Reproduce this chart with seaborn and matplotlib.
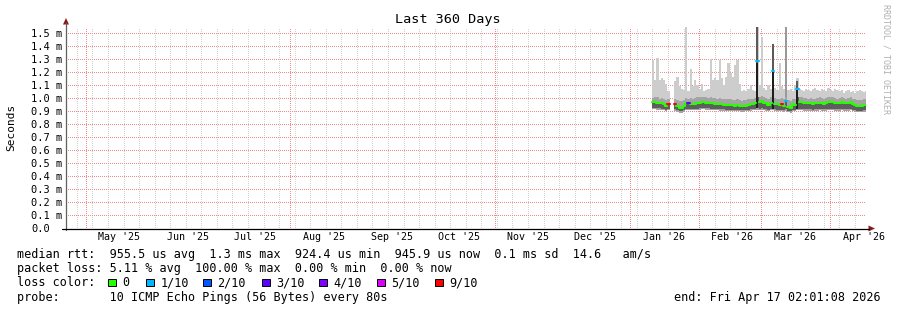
import numpy as np
import pandas as pd
import matplotlib
matplotlib.use("Agg")
import matplotlib.pyplot as plt
import seaborn as sns
from matplotlib.patches import Rectangle, Polygon
from matplotlib.lines import Line2D

W, H, DPI = 897, 310, 100

# ---------------- data ----------------
title = "Last 360 Days"
end_label = "end: Fri Apr 17 02:01:08 2026"
end_time = pd.Timestamp("2026-04-17 02:01:08")
span_days = 360
data_start = pd.Timestamp("2026-01-10 18:00")   # left edge of first daily step

month_labels = ["May '25", "Jun '25", "Jul '25", "Aug '25", "Sep '25", "Oct '25",
                "Nov '25", "Dec '25", "Jan '26", "Feb '26", "Mar '26", "Apr '26"]
month_label_dates = ["2025-05-16", "2025-06-16", "2025-07-16", "2025-08-16",
                     "2025-09-16", "2025-10-16", "2025-11-16", "2025-12-16",
                     "2026-01-16", "2026-02-16", "2026-03-16", "2026-04-16"]
major_grid_dates = ["2025-05-01", "2025-08-01", "2025-11-01", "2026-01-01",
                    "2026-02-01", "2026-03-01", "2026-04-01"]
week_grid_first = "2025-04-27"

ytick_values = [0.0, 0.1, 0.2, 0.3, 0.4, 0.5, 0.6, 0.7, 0.8, 0.9, 1.0, 1.1, 1.2, 1.3, 1.4, 1.5]
ytick_labels = ["0.0", "0.1 m", "0.2 m", "0.3 m", "0.4 m", "0.5 m", "0.6 m", "0.7 m",
                "0.8 m", "0.9 m", "1.0 m", "1.1 m", "1.2 m", "1.3 m", "1.4 m", "1.5 m"]
y_label = "Seconds"

nan = np.nan
# daily median rtt (ms)
median_ms = [0.970, 0.968, 0.962, 0.960, 0.958, 0.950, 0.940, 0.952, nan, nan,
             0.950, 0.935, 0.926, 0.922, 0.935, 0.958, 0.958, 0.955, 0.952, 0.954,
             0.958, 0.962, 0.966, 0.966, 0.964, 0.960, 0.958, 0.959, 0.956, 0.953,
             0.950, 0.951, 0.948, 0.946, 0.944, 0.946, 0.943, 0.942, 0.944, 0.940,
             0.937, 0.938, 0.942, 0.946, 0.950, 0.955, 0.958, 1.280, 0.968, 0.975,
             0.962, 0.958, 0.948, 0.965, 1.210, 0.955, 0.950, 0.948, 0.952, 0.940,
             0.975, 0.930, 0.922, 0.952, 0.948, 1.070, 0.966, 0.968, 0.962, 0.960,
             0.958, 0.962, 0.955, 0.958, 0.962, 0.965, 0.960, 0.956, 0.962, 0.968,
             0.972, 0.966, 0.962, 0.958, 0.962, 0.966, 0.962, 0.958, 0.962, 0.966,
             0.955, 0.945, 0.942, 0.940, 0.942, 0.944, 0.946]
# packet loss per day (out of 10 pings)
loss = [0, 0, 0, 0, 0, 0, 0, 9, 0, 0,
        9, 0, 0, 0, 0, 0, 3, 0, 0, 0,
        0, 0, 0, 0, 0, 0, 0, 0, 0, 0,
        0, 0, 0, 0, 0, 0, 0, 0, 0, 0,
        0, 0, 0, 0, 0, 0, 0, 1, 0, 0,
        0, 0, 0, 0, 1, 0, 0, 0, 9, 0,
        1, 0, 0, 0, 0, 1, 0, 0, 0, 0,
        0, 0, 0, 0, 0, 0, 0, 0, 0, 0,
        0, 0, 0, 0, 0, 0, 0, 0, 0, 0,
        0, 0, 0, 0, 0, 0, 0]
# smoke: lowest ping, lower edge of dark core, upper edge of mid band, highest ping (ms)
smoke_min = [0.915, 0.912, 0.910, 0.910, 0.908, 0.905, 0.900, 0.905, nan, nan,
             0.900, 0.890, 0.885, 0.885, 0.890, 0.905, 0.905, 0.905, 0.905, 0.905,
             0.908, 0.910, 0.912, 0.912, 0.910, 0.910, 0.908, 0.908, 0.905, 0.905,
             0.903, 0.903, 0.902, 0.900, 0.900, 0.900, 0.898, 0.898, 0.900, 0.897,
             0.895, 0.895, 0.897, 0.900, 0.902, 0.905, 0.905, 0.910, 0.905, 0.908,
             0.905, 0.903, 0.900, 0.905, 0.905, 0.903, 0.900, 0.900, 0.900, 0.895,
             0.900, 0.890, 0.885, 0.900, 0.900, 0.905, 0.905, 0.905, 0.903, 0.903,
             0.902, 0.903, 0.900, 0.902, 0.903, 0.905, 0.903, 0.902, 0.903, 0.905,
             0.906, 0.905, 0.903, 0.902, 0.903, 0.905, 0.903, 0.902, 0.903, 0.905,
             0.900, 0.895, 0.893, 0.892, 0.893, 0.894, 0.895]
core_lo = [0.925, 0.922, 0.920, 0.920, 0.918, 0.915, 0.910, 0.915, nan, nan,
           0.912, 0.905, 0.900, 0.898, 0.905, 0.915, 0.915, 0.915, 0.915, 0.915,
           0.918, 0.920, 0.922, 0.922, 0.920, 0.920, 0.918, 0.918, 0.915, 0.915,
           0.913, 0.913, 0.912, 0.910, 0.910, 0.910, 0.908, 0.908, 0.910, 0.907,
           0.905, 0.905, 0.907, 0.910, 0.912, 0.915, 0.915, 0.920, 0.918, 0.920,
           0.915, 0.913, 0.910, 0.915, 0.915, 0.913, 0.910, 0.910, 0.910, 0.905,
           0.912, 0.900, 0.898, 0.910, 0.910, 0.915, 0.915, 0.915, 0.913, 0.913,
           0.912, 0.913, 0.910, 0.912, 0.913, 0.915, 0.913, 0.912, 0.913, 0.915,
           0.916, 0.915, 0.913, 0.912, 0.913, 0.915, 0.913, 0.912, 0.913, 0.915,
           0.910, 0.905, 0.903, 0.902, 0.903, 0.904, 0.905]
band_hi = [1.000, 1.005, 1.010, 0.995, 1.000, 0.990, 0.985, 0.990, nan, nan,
           0.995, 0.985, 0.975, 0.975, 0.985, 1.000, 0.995, 1.000, 0.995, 1.000,
           1.005, 1.005, 1.010, 1.005, 1.005, 1.000, 1.005, 1.000, 1.000, 0.995,
           1.000, 0.995, 0.990, 0.995, 0.990, 0.990, 0.985, 0.985, 0.990, 0.985,
           0.980, 0.985, 0.985, 0.990, 0.995, 0.995, 1.000, 1.010, 1.010, 1.015,
           1.005, 1.000, 0.995, 1.005, 1.000, 1.000, 0.995, 0.995, 1.000, 0.990,
           1.005, 0.985, 0.980, 0.995, 0.995, 1.010, 1.005, 1.005, 1.000, 1.000,
           0.995, 1.000, 0.995, 0.995, 1.000, 1.005, 1.000, 0.995, 1.000, 1.005,
           1.010, 1.005, 1.000, 0.995, 1.000, 1.005, 1.000, 0.995, 1.000, 1.005,
           0.995, 0.990, 0.985, 0.985, 0.985, 0.990, 0.990]
smoke_max = [1.290, 1.140, 1.305, 1.140, 1.150, 1.140, 1.110, 1.050, nan, nan,
             1.130, 1.160, 1.090, 1.070, 1.060, 1.550, 1.050, 1.220, 1.090, 1.140,
             1.100, 1.070, 1.110, 1.050, 1.060, 1.070, 1.300, 1.140, 1.150, 1.140,
             1.290, 1.150, 1.100, 1.160, 1.270, 1.190, 1.160, 1.250, 1.290, 1.110,
             1.050, 1.060, 1.050, 1.070, 1.100, 1.060, 1.050, 1.550, 1.100, 1.470,
             1.080, 1.060, 1.100, 1.070, 1.415, 1.080, 1.060, 1.270, 1.090, 1.070,
             1.550, 1.060, 1.070, 1.050, 1.100, 1.150, 1.070, 1.060, 1.050, 1.070,
             1.060, 1.050, 1.070, 1.080, 1.060, 1.050, 1.070, 1.060, 1.050, 1.080,
             1.060, 1.050, 1.070, 1.060, 1.050, 1.060, 1.040, 1.050, 1.060, 1.045,
             1.050, 1.040, 1.050, 1.060, 1.050, 1.045, 1.050]
# tall outlier columns: day index, upper grey part top, dark lower part top (ms)
spike_day = [47, 54, 60, 65]
spike_top = [1.550, 1.415, 1.550, 1.130]
spike_dark_top = [1.270, 1.215, 0.000, 1.075]

loss_levels = [0, 1, 2, 3, 4, 5, 9]
loss_names = ["0", "1/10", "2/10", "3/10", "4/10", "5/10", "9/10"]
loss_colors = ["#26ff00", "#00b8ff", "#0059ff", "#5e00ff", "#7e00ff", "#dd00ff", "#ff0000"]

legend_rtt = "median rtt:  955.5 us avg  1.3 ms max  924.4 us min  945.9 us now  0.1 ms sd  14.6   am/s"
legend_loss = "packet loss: 5.11 % avg  100.00 % max  0.00 % min  0.00 % now"
legend_color_title = "loss color:"
legend_probe = "probe:       10 ICMP Echo Pings (56 Bytes) every 80s"
watermark = "RRDTOOL / TOBI OETIKER"

# ---------------- figure ----------------
sns.set_theme(style="white")
plt.rcParams["font.family"] = ["DejaVu Sans Mono", "DejaVu Sans"]
MONO = "DejaVu Sans Mono"

start_time = end_time - pd.Timedelta(days=span_days)
def day_of(ts):
    return (pd.Timestamp(ts) - start_time) / pd.Timedelta(days=1)

fig = plt.figure(figsize=(W / DPI, H / DPI), dpi=DPI)
fig.patch.set_facecolor("white")

X0, X1 = 66.0, 866.0
Y0, YT = 228.5, 26.7          # pixel rows of value 0 and plot top
PX_PER_MS = (Y0 - 32.7) / 1.5
ytop = (Y0 - YT) / PX_PER_MS

ax = fig.add_axes([X0 / W, 1 - Y0 / H, (X1 - X0) / W, (Y0 - YT) / H])
ax.set_facecolor("white")
ax.set_xlim(0, span_days)
ax.set_ylim(0, ytop)
for s in ax.spines.values():
    s.set_visible(False)

DOT = (0, (1, 2))
MINOR_C = "#d2d2d2"
MAJOR_C = "#f08c8c"
# minor weekly grid
wk = pd.date_range(week_grid_first, end_time, freq="7D")
for d in wk:
    ax.axvline(day_of(d), color=MINOR_C, lw=0.72, ls=DOT, zorder=0.5, antialiased=False)
for d in major_grid_dates:
    ax.axvline(day_of(d), color=MAJOR_C, lw=0.72, ls=DOT, zorder=0.6, antialiased=False)
for v in ytick_values[1:]:
    ax.axhline(v, color=MAJOR_C, lw=0.72, ls=DOT, zorder=0.6, antialiased=False)

# ---------------- data layers ----------------
n = len(median_ms)
t0 = day_of(data_start)
t_left = t0 + np.arange(n)

def stepify(vals):
    xs = np.repeat(t_left, 2).astype(float)
    xs[1::2] += 1.0
    ys = np.repeat(np.asarray(vals, dtype=float), 2)
    return xs, ys

xs, smin = stepify(smoke_min)
_, smax = stepify(smoke_max)
_, bhi = stepify(band_hi)
_, clo = stepify(core_lo)
_, med = stepify(median_ms)
med_core = np.minimum(med, bhi)

ax.fill_between(xs, smin, smax, color="#cdcdcd", lw=0, zorder=1)
ax.fill_between(xs, smin, bhi, color="#a4a4a4", lw=0, zorder=1.1)
ax.fill_between(xs, clo, med_core, color="#5e5e5e", lw=0, zorder=1.2)

for d, top, dtop in zip(spike_day, spike_top, spike_dark_top):
    col = "#999999" if dtop == 0 else "#5a5a5a"
    ax.bar(t_left[d] + 0.5, top - band_hi[d], bottom=band_hi[d], width=0.9,
           color=col, lw=0, zorder=1.3)
    if dtop > 0:
        ax.bar(t_left[d] + 0.5, dtop - core_lo[d], bottom=core_lo[d], width=0.9,
               color="#1e1e1e", lw=0, zorder=1.4)

# median line coloured by loss
med_arr = np.asarray(median_ms, dtype=float)
loss_arr = np.asarray(loss)
for lvl, col in zip(loss_levels, loss_colors):
    sel = (loss_arr == lvl) & ~np.isnan(med_arr)
    idx = np.where(sel)[0]
    if len(idx) == 0:
        continue
    runs = np.split(idx, np.where(np.diff(idx) != 1)[0] + 1)
    for r in runs:
        rx = np.repeat(t_left[r], 2).astype(float)
        rx[1::2] += 1.0
        ry = np.repeat(med_arr[r], 2)
        sns.lineplot(x=rx, y=ry, ax=ax, color=col, lw=1.5, sort=False,
                     estimator=None, zorder=3, legend=False)

# ---------------- ticks ----------------
ax.set_yticks(ytick_values)
ax.set_yticklabels(ytick_labels, fontfamily=MONO, fontsize=7.5, color="#000000")
ax.tick_params(axis="y", length=0, pad=(X0 - 31) * 72 / DPI)
for lab in ax.get_yticklabels():
    lab.set_ha("left")
ax.set_xticks([day_of(d) for d in month_label_dates])
ax.set_xticklabels(month_labels, fontfamily=MONO, fontsize=7.2, color="#000000")
ax.tick_params(axis="x", length=0, pad=2.6)
ax.set_xlabel("")
ax.set_ylabel("")
ax.grid(False)

# ---------------- axes lines & arrows (pixel coords) ----------------
def fx(x):
    return x / W
def fy(y):
    return 1 - y / H

fig.add_artist(Line2D([fx(X0), fx(X0)], [fy(Y0 + 1), fy(23)], color="#606060", lw=0.9))
fig.add_artist(Line2D([fx(62), fx(869)], [fy(Y0), fy(Y0)], color="#000000", lw=0.9))
fig.add_artist(Polygon([[fx(X0), fy(18)], [fx(X0 - 3), fy(24.5)], [fx(X0 + 3), fy(24.5)]],
                       closed=True, color="#8b1a1a", lw=0))
fig.add_artist(Polygon([[fx(875), fy(Y0)], [fx(868.5), fy(Y0 - 3)], [fx(868.5), fy(Y0 + 3)]],
                       closed=True, color="#8b1a1a", lw=0))

# ---------------- texts ----------------
fig.text(fx(448), fy(19), title, ha="center", va="center", fontfamily=MONO,
         fontsize=9.7, color="#000000")
fig.text(fx(11), fy(127), y_label, ha="center", va="center", rotation=90,
         fontfamily=MONO, fontsize=8.0, color="#000000")
fig.text(fx(886), fy(59), watermark, ha="center", va="center", rotation=270,
         fontfamily=MONO, fontsize=6.0, color="#b0b0b0")

LFS = 8.43
fig.text(fx(16.5), fy(258), legend_rtt, ha="left", va="baseline", fontfamily=MONO,
         fontsize=LFS, color="#000000")
fig.text(fx(16.5), fy(272), legend_loss, ha="left", va="baseline", fontfamily=MONO,
         fontsize=LFS, color="#000000")
fig.text(fx(16.5), fy(286.5), legend_color_title, ha="left", va="baseline",
         fontfamily=MONO, fontsize=LFS, color="#000000")
sq_x = [108, 146, 203, 262, 319, 377, 435]
for x, name, col in zip(sq_x, loss_names, loss_colors):
    fig.add_artist(Rectangle((fx(x), fy(286)), 7.5 / W, 7.5 / H, facecolor=col,
                             edgecolor="#000000", lw=0.7))
    fig.text(fx(x + 14.5), fy(286.5), name, ha="left", va="baseline", fontfamily=MONO,
             fontsize=LFS, color="#000000")
fig.text(fx(16.5), fy(300.5), legend_probe, ha="left", va="baseline", fontfamily=MONO,
         fontsize=LFS, color="#000000")
fig.text(fx(880.5), fy(300.5), end_label, ha="right", va="baseline", fontfamily=MONO,
         fontsize=LFS, color="#000000")

fig.savefig("out.png", dpi=DPI, facecolor="white")
